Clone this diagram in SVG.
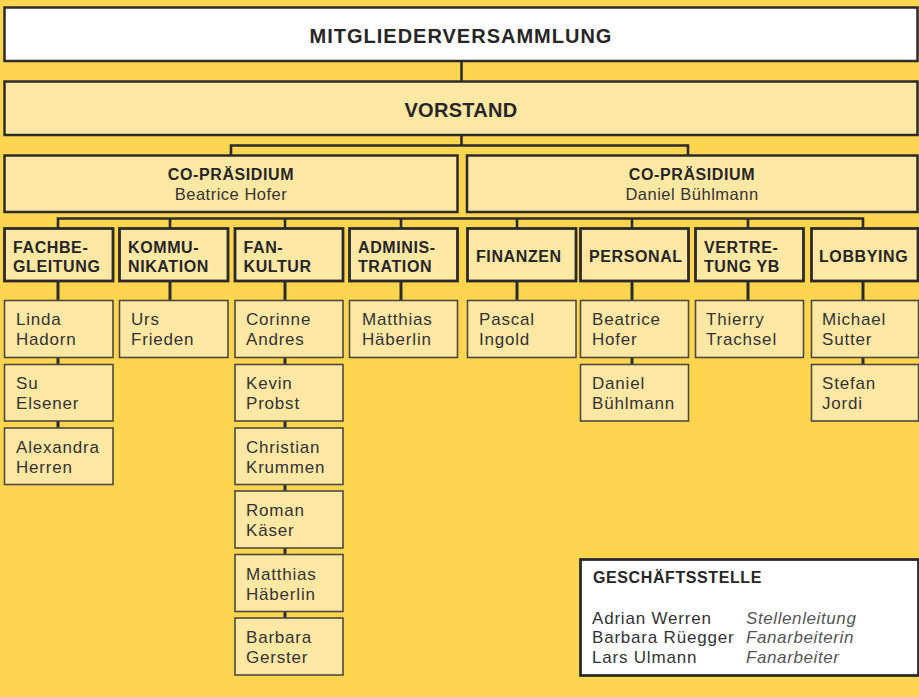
<svg xmlns="http://www.w3.org/2000/svg" width="919" height="697" viewBox="0 0 919 697">
<style>
.bg{fill:#FED54F}
.main{fill:#FFE7A4;stroke:#2b2b2b;stroke-width:2.5}
.white{fill:#ffffff;stroke:#2b2b2b;stroke-width:2.5}
.dept{fill:#FFE7A4;stroke:#2b2b2b;stroke-width:2.8}
.pers{fill:#FFE7A4;stroke:#4d4a40;stroke-width:1.6}
.conn{fill:none;stroke:#2b2b2b;stroke-width:2.6}
.pconn{fill:none;stroke:#2b2b2b;stroke-width:3}
text{font-family:"Liberation Sans",Arial,sans-serif;fill:#262626}
.t1{font-size:20px;font-weight:bold;letter-spacing:1px;text-anchor:middle}
.t2{font-size:16px;font-weight:bold;letter-spacing:0.6px;text-anchor:middle}
.t2n{font-size:16.5px;letter-spacing:0.5px;text-anchor:middle;fill:#333}
.d{font-size:16px;font-weight:bold;letter-spacing:0.6px}
.p{font-size:17px;letter-spacing:0.8px;fill:#333}
.role{font-size:17px;font-style:italic;letter-spacing:0.6px;fill:#555}
</style>
<rect class="bg" x="0" y="0" width="919" height="697"/>

<g id="connectors">
<path class="conn" d="M461.5 61 V81"/>
<path class="conn" d="M461.5 135 V145.5 M231 155 V145.5 H688 V155"/>
<path class="conn" d="M58 228 V218.5 H863 V228 M170 218.5 V228 M285 218.5 V228 M401 218.5 V228 M517 218.5 V228 M632 218.5 V228 M748 218.5 V228"/>
<path class="pconn" d="M58 281 V300 M170 281 V300 M285 281 V300 M401 281 V300 M517 281 V300 M632 281 V300 M748 281 V300 M863 281 V300"/>
<path class="pconn" d="M58 357 V364 M58 421 V428 M285 357 V364 M285 421 V428 M285 484 V491 M285 548 V554 M285 611 V618 M632 357 V364 M863 357 V364"/>
</g>

<g id="mitgliederversammlung">
<rect class="white" x="4.5" y="7.5" width="913" height="53.5"/>
<text class="t1" x="461" y="43">MITGLIEDERVERSAMMLUNG</text>
</g>
<g id="vorstand">
<rect class="main" x="4.5" y="81.5" width="913" height="53.5"/>
<text class="t1" x="461" y="117" style="letter-spacing:0.3px">VORSTAND</text>
</g>
<g id="copraesidium-1">
<rect class="main" x="4.5" y="155.5" width="453" height="56.5"/>
<text class="t2" x="231" y="180">CO-PRÄSIDIUM</text>
<text class="t2n" x="231" y="200">Beatrice Hofer</text>
</g>
<g id="copraesidium-2">
<rect class="main" x="467" y="155.5" width="450.5" height="56.5"/>
<text class="t2" x="692" y="180">CO-PRÄSIDIUM</text>
<text class="t2n" x="692" y="200">Daniel Bühlmann</text>
</g>

<g id="dept-fachbegleitung">
<rect class="dept" x="4.5" y="228.5" width="108.5" height="52.5"/>
<text class="d" x="13" y="253">FACHBE-</text><text class="d" x="13" y="272">GLEITUNG</text>
</g>
<g id="dept-kommunikation">
<rect class="dept" x="119.5" y="228.5" width="108.5" height="52.5"/>
<text class="d" x="128" y="253">KOMMU-</text><text class="d" x="128" y="272">NIKATION</text>
</g>
<g id="dept-fankultur">
<rect class="dept" x="235" y="228.5" width="108" height="52.5"/>
<text class="d" x="243.5" y="253">FAN-</text><text class="d" x="243.5" y="272">KULTUR</text>
</g>
<g id="dept-administration">
<rect class="dept" x="349.5" y="228.5" width="108" height="52.5"/>
<text class="d" x="358" y="253">ADMINIS-</text><text class="d" x="358" y="272">TRATION</text>
</g>
<g id="dept-finanzen">
<rect class="dept" x="467.5" y="228.5" width="108.5" height="52.5"/>
<text class="d" x="476" y="262">FINANZEN</text>
</g>
<g id="dept-personal">
<rect class="dept" x="580.5" y="228.5" width="108" height="52.5"/>
<text class="d" x="589" y="262">PERSONAL</text>
</g>
<g id="dept-vertretung">
<rect class="dept" x="695.5" y="228.5" width="108" height="52.5"/>
<text class="d" x="704" y="253">VERTRE-</text><text class="d" x="704" y="272">TUNG YB</text>
</g>
<g id="dept-lobbying">
<rect class="dept" x="811.5" y="228.5" width="106.5" height="52.5"/>
<text class="d" x="819" y="262">LOBBYING</text>
</g>

<g id="p-linda-hadorn"><rect class="pers" x="4.5" y="300.5" width="108.5" height="57"/><text class="p" x="16" y="325">Linda</text><text class="p" x="16" y="345">Hadorn</text></g>
<g id="p-su-elsener"><rect class="pers" x="4.5" y="364.5" width="108.5" height="56.5"/><text class="p" x="16" y="389">Su</text><text class="p" x="16" y="409">Elsener</text></g>
<g id="p-alexandra-herren"><rect class="pers" x="4.5" y="428" width="108.5" height="56.5"/><text class="p" x="16" y="453">Alexandra</text><text class="p" x="16" y="473">Herren</text></g>

<g id="p-urs-frieden"><rect class="pers" x="119.5" y="300.5" width="108.5" height="57"/><text class="p" x="131" y="325">Urs</text><text class="p" x="131" y="345">Frieden</text></g>

<g id="p-corinne-andres"><rect class="pers" x="235" y="300.5" width="108" height="57"/><text class="p" x="246" y="325">Corinne</text><text class="p" x="246" y="345">Andres</text></g>
<g id="p-kevin-probst"><rect class="pers" x="235" y="364.5" width="108" height="56.5"/><text class="p" x="246" y="389">Kevin</text><text class="p" x="246" y="409">Probst</text></g>
<g id="p-christian-krummen"><rect class="pers" x="235" y="428" width="108" height="56.5"/><text class="p" x="246" y="453">Christian</text><text class="p" x="246" y="473">Krummen</text></g>
<g id="p-roman-kaeser"><rect class="pers" x="235" y="491" width="108" height="57"/><text class="p" x="246" y="516">Roman</text><text class="p" x="246" y="536">Käser</text></g>
<g id="p-matthias-haeberlin-2"><rect class="pers" x="235" y="554.5" width="108" height="57"/><text class="p" x="246" y="580">Matthias</text><text class="p" x="246" y="600">Häberlin</text></g>
<g id="p-barbara-gerster"><rect class="pers" x="235" y="618" width="108" height="57"/><text class="p" x="246" y="643">Barbara</text><text class="p" x="246" y="663">Gerster</text></g>

<g id="p-matthias-haeberlin"><rect class="pers" x="349.5" y="300.5" width="108" height="57"/><text class="p" x="362" y="325">Matthias</text><text class="p" x="362" y="345">Häberlin</text></g>

<g id="p-pascal-ingold"><rect class="pers" x="467.5" y="300.5" width="108.5" height="57"/><text class="p" x="479" y="325">Pascal</text><text class="p" x="479" y="345">Ingold</text></g>

<g id="p-beatrice-hofer"><rect class="pers" x="580.5" y="300.5" width="108" height="57"/><text class="p" x="592" y="325">Beatrice</text><text class="p" x="592" y="345">Hofer</text></g>
<g id="p-daniel-buehlmann"><rect class="pers" x="580.5" y="364.5" width="108" height="56.5"/><text class="p" x="592" y="389">Daniel</text><text class="p" x="592" y="409">Bühlmann</text></g>

<g id="p-thierry-trachsel"><rect class="pers" x="695.5" y="300.5" width="108" height="57"/><text class="p" x="706" y="325">Thierry</text><text class="p" x="706" y="345">Trachsel</text></g>

<g id="p-michael-sutter"><rect class="pers" x="811.5" y="300.5" width="107" height="57"/><text class="p" x="822" y="325">Michael</text><text class="p" x="822" y="345">Sutter</text></g>
<g id="p-stefan-jordi"><rect class="pers" x="811.5" y="364.5" width="107" height="56.5"/><text class="p" x="822" y="389">Stefan</text><text class="p" x="822" y="409">Jordi</text></g>

<g id="geschaeftsstelle">
<rect class="white" x="580.5" y="559.5" width="338" height="116" style="stroke-width:2.8"/>
<text class="d" x="593" y="583">GESCHÄFTSSTELLE</text>
<text class="p" x="592" y="624">Adrian Werren</text>
<text class="p" x="592" y="643">Barbara Rüegger</text>
<text class="p" x="592" y="663">Lars Ulmann</text>
<text class="role" x="746" y="624">Stellenleitung</text>
<text class="role" x="746" y="643">Fanarbeiterin</text>
<text class="role" x="746" y="663">Fanarbeiter</text>
</g>
</svg>
